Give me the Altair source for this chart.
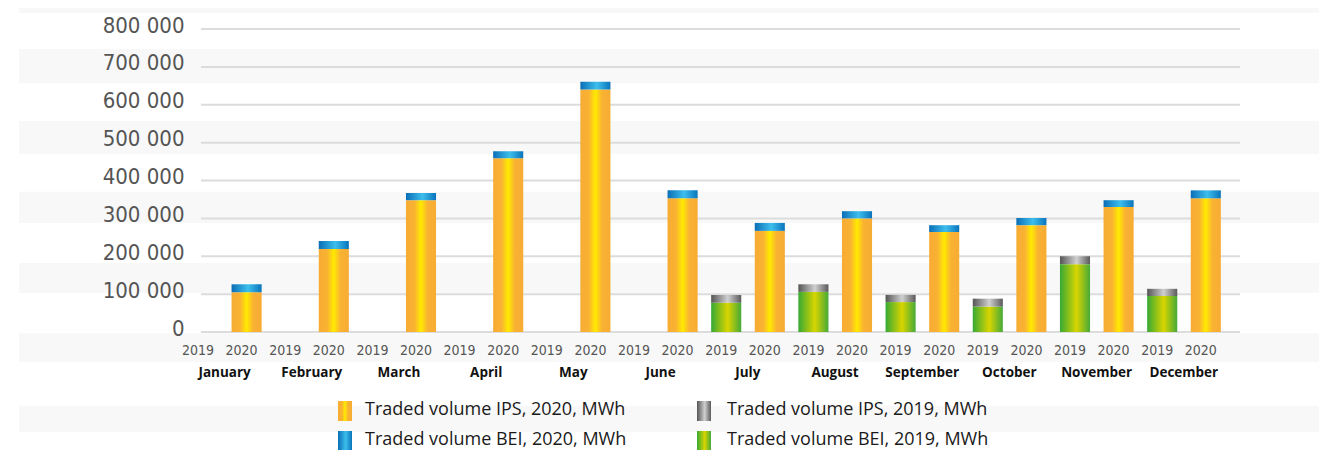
import altair as alt
import pandas as pd

# ---------------- data ----------------
months = ["January", "February", "March", "April", "May", "June",
          "July", "August", "September", "October", "November", "December"]
years = ["2019", "2020"]

ips_2020 = [105000, 219000, 348000, 459000, 640000, 353000,
            267000, 300000, 264000, 282000, 330000, 353000]
bei_2020 = [21000, 21000, 19000, 18000, 21000, 21000,
            21000, 19000, 18000, 19000, 18000, 21000]
bei_2019 = [None, None, None, None, None, None,
            77000, 106000, 79000, 67000, 179000, 95000]
ips_2019 = [None, None, None, None, None, None,
            21000, 20000, 19000, 21000, 21000, 19000]

legend_labels = ["Traded volume IPS, 2020, MWh", "Traded volume IPS, 2019, MWh",
                 "Traded volume BEI, 2020, MWh", "Traded volume BEI, 2019, MWh"]
series_keys = ["IPS 2020", "IPS 2019", "BEI 2020", "BEI 2019"]

y_ticks = [0, 100000, 200000, 300000, 400000, 500000, 600000, 700000, 800000]

# background stripes (in value units of the y scale)
stripe_lo = [842000, 657000, 470000, 288000, 103000, -79000, -264000]
stripe_hi = [877000, 747000, 557000, 370000, 182000, -3000, -195000]

# ---------------- tables ----------------
rows = []
for i, m in enumerate(months):
    s20 = f"{m}|2020"
    rows.append(dict(slot=s20, series="IPS 2020", low=0, high=ips_2020[i]))
    rows.append(dict(slot=s20, series="BEI 2020", low=ips_2020[i], high=ips_2020[i] + bei_2020[i]))
    if bei_2019[i] is not None:
        s19 = f"{m}|2019"
        rows.append(dict(slot=s19, series="BEI 2019", low=0, high=bei_2019[i]))
        rows.append(dict(slot=s19, series="IPS 2019", low=bei_2019[i], high=bei_2019[i] + ips_2019[i]))
bars_df = pd.DataFrame(rows)

slot_order = [f"{m}|{y}" for m in months for y in years]
month_df = pd.DataFrame({"slot": [f"{m}|2020" for m in months], "name": months})
stripe_df = pd.DataFrame({"lo": stripe_lo, "hi": stripe_hi})
grid_df = pd.DataFrame({"v": y_ticks})


def grad(stops):
    return alt.Gradient(
        gradient="linear",
        stops=[alt.GradientStop(offset=o, color=c) for o, c in stops],
        x1=0, x2=1, y1=0, y2=0,
    )


gradients = {
    "IPS 2020": grad([(0, "#F7AC33"), (0.28, "#F9B233"), (0.5, "#FFEA00"), (0.72, "#F9B233"), (1, "#F7AC33")]),
    "BEI 2020": grad([(0, "#0A6EB6"), (0.55, "#3DBEEC"), (1, "#0A74BC")]),
    "IPS 2019": grad([(0, "#555555"), (0.55, "#D0D0D0"), (1, "#5A5A5A")]),
    "BEI 2019": grad([(0, "#36A935"), (0.55, "#D8D500"), (1, "#45AA38")]),
}

# ---------------- scales / axes ----------------
x_scale = alt.Scale(domain=slot_order, range=[-19.8, 1026.6], paddingInner=0.31, paddingOuter=0.155)
x_axis = alt.Axis(
    title=None, labelExpr="split(datum.value, '|')[1]", labelAngle=0,
    domain=False, ticks=False, grid=False, labelPadding=11, labelOffset=-5,
    labelFont="DejaVu Sans Condensed", labelFontSize=14, labelColor="#555555",
    zindex=2, labelOverlap=False,
)
y_scale = alt.Scale(domain=[0, 800000], nice=False, zero=True)
y_axis = alt.Axis(
    title=None, values=y_ticks,
    labelExpr="replace(format(datum.value, ','), regexp(',', 'g'), ' ')",
    domain=False, ticks=False, grid=False,
    labelPadding=17, labelOffset=-4, labelBaseline="middle",
    labelFont="DejaVu Sans Condensed", labelFontSize=22, labelColor="#555555",
    zindex=2, labelOverlap=False,
)

x_enc = alt.X("slot:N", scale=x_scale, axis=x_axis)

# ---------------- layers ----------------
stripes = alt.Chart(stripe_df).mark_rect(color="#F8F8F8").encode(
    x=alt.value(-182), x2=alt.value(1118),
    y=alt.Y("lo:Q", scale=y_scale, axis=y_axis), y2="hi:Q",
)

gridlines = alt.Chart(grid_df).mark_rule(color="#DCDCDC", strokeWidth=2).encode(
    x=alt.value(0), x2=alt.value(1039),
    y=alt.Y("v:Q", scale=y_scale, axis=y_axis),
)

bar_layers = []
for key in ["IPS 2020", "BEI 2020", "BEI 2019", "IPS 2019"]:
    bar_layers.append(
        alt.Chart(bars_df).transform_filter(alt.datum.series == key)
        .mark_bar(color=gradients[key], cornerRadius=0)
        .encode(
            x=x_enc,
            y=alt.Y("low:Q", scale=y_scale, axis=y_axis),
            y2="high:Q",
        )
    )

month_text = alt.Chart(month_df).mark_text(
    dx=-22, font="Open Sans", fontWeight="bold", fontSize=13.5, baseline="middle",
    align="center", color="#111111",
).encode(x=x_enc, y=alt.value(344), text="name:N")

# custom legend (2 columns x 2 rows)
legend_layers = []
sym_x = [137, 496]
txt_x = [164, 526]
row_y = [372, 402]
for idx, (lab, key) in enumerate(zip(legend_labels, series_keys)):
    col = idx % 2
    row = idx // 2
    ldf = pd.DataFrame({"label": [lab]})
    legend_layers.append(
        alt.Chart(ldf).mark_rect(color=gradients[key]).encode(
            x=alt.value(sym_x[col]), x2=alt.value(sym_x[col] + 14),
            y=alt.value(row_y[row]), y2=alt.value(row_y[row] + 20),
        )
    )
    legend_layers.append(
        alt.Chart(ldf).mark_text(
            font="Open Sans", fontSize=18, align="left", baseline="middle", color="#1A1A1A",
        ).encode(
            x=alt.value(txt_x[col]), y=alt.value(row_y[row] + 9), text="label:N",
        )
    )

chart = alt.layer(stripes, gridlines, *bar_layers, month_text, *legend_layers).properties(
    width=1039, height=303,
    autosize=alt.AutoSizeParams(type="none"),
    padding={"left": 193, "top": 21, "right": 79, "bottom": 118},
    background="white",
).configure_view(stroke=None)

chart.save("out.html", embed_options={"renderer": "svg", "actions": False})
